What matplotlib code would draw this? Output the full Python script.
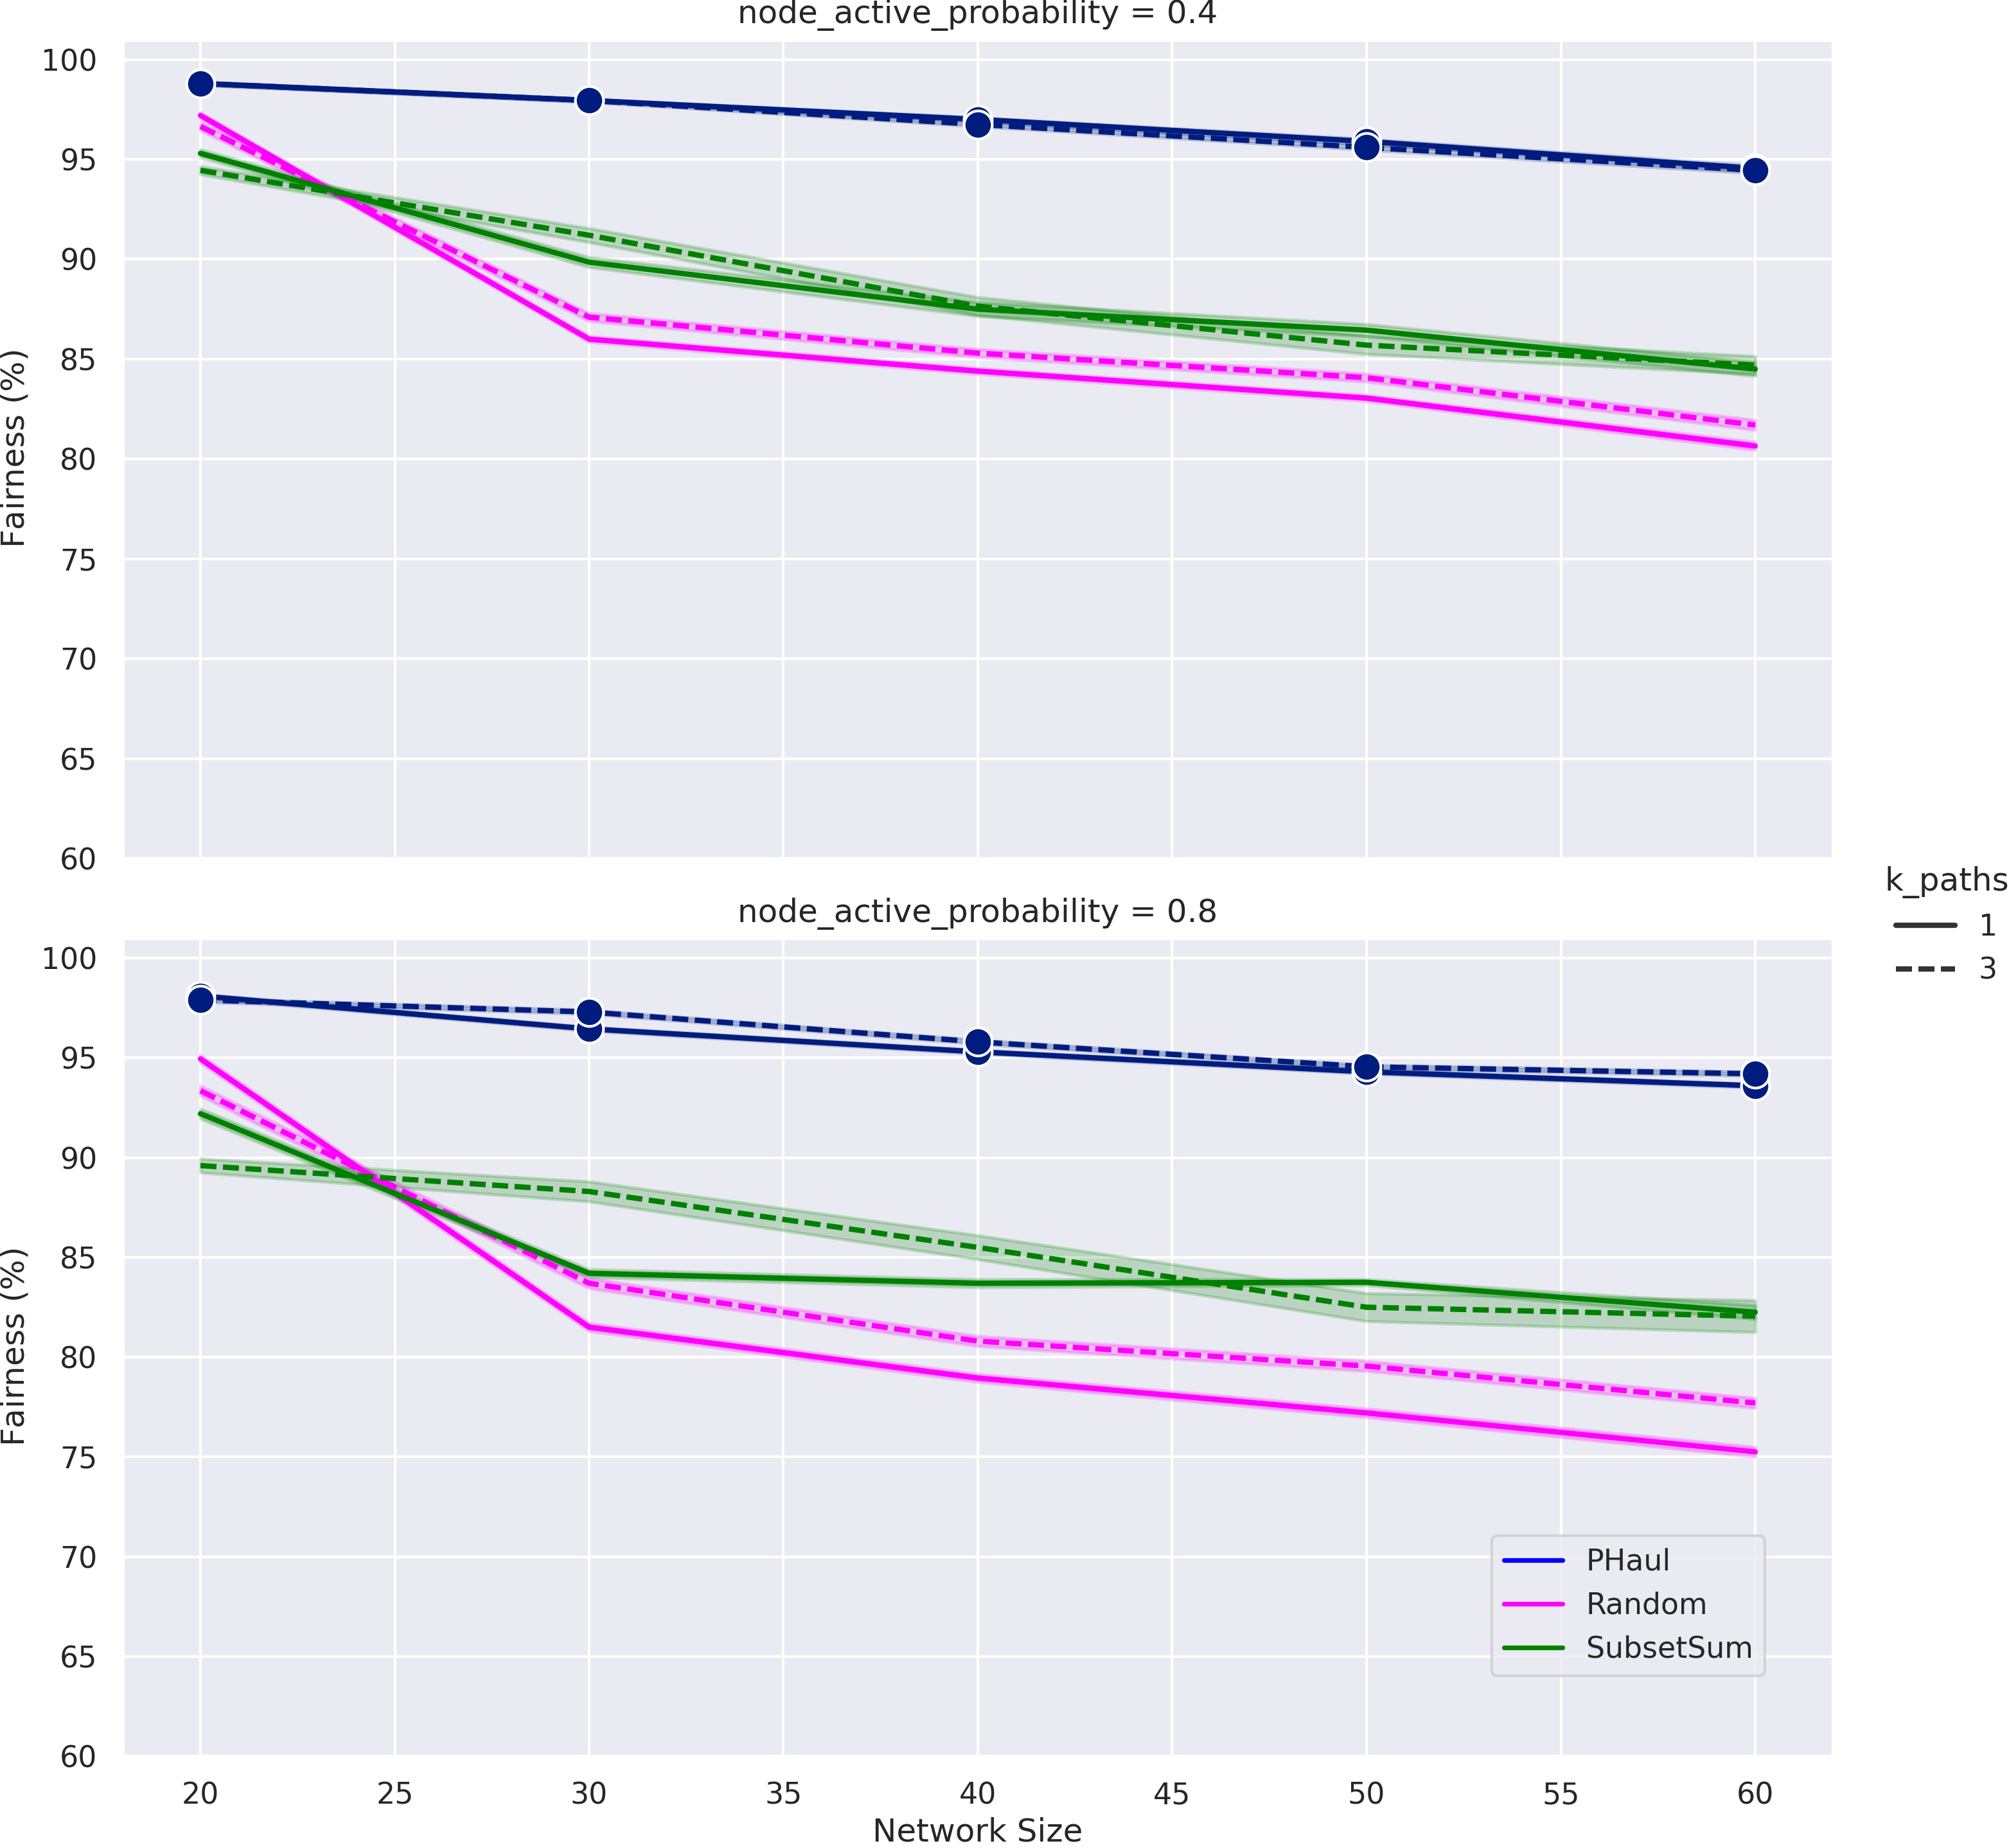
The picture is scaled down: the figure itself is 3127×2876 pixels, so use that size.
import matplotlib
matplotlib.use("Agg")
import matplotlib.pyplot as plt
from matplotlib.lines import Line2D
import numpy as np
import seaborn as sns

sns.set_theme(style="darkgrid")
plt.rcParams['font.family'] = ['DejaVu Sans']

network_sizes = [20, 30, 40, 50, 60]
probabilities = [0.4, 0.8]
k_paths = [1, 3]
algorithms = ["PHaul", "Random", "SubsetSum"]

# mean fairness per (probability, algorithm, k_paths)
phaul_p04_k1 = [98.8, 97.95, 97.0, 95.9, 94.55]
phaul_p04_k3 = [98.8, 97.95, 96.75, 95.6, 94.45]
random_p04_k1 = [97.2, 86.0, 84.4, 83.05, 80.65]
random_p04_k3 = [96.65, 87.1, 85.3, 84.07, 81.7]
subset_p04_k1 = [95.3, 89.85, 87.5, 86.45, 84.5]
subset_p04_k3 = [94.45, 91.2, 87.65, 85.7, 84.7]

phaul_p08_k1 = [98.1, 96.45, 95.3, 94.3, 93.6]
phaul_p08_k3 = [97.9, 97.3, 95.8, 94.55, 94.2]
random_p08_k1 = [94.95, 81.5, 78.95, 77.2, 75.25]
random_p08_k3 = [93.35, 83.7, 80.8, 79.55, 77.7]
subset_p08_k1 = [92.2, 84.2, 83.7, 83.75, 82.25]
subset_p08_k3 = [89.6, 88.3, 85.5, 82.5, 82.05]

# confidence-band half widths
phaul_p04_k1_ci = [0.08, 0.08, 0.1, 0.12, 0.15]
phaul_p04_k3_ci = [0.08, 0.08, 0.1, 0.12, 0.15]
random_p04_k1_ci = [0.15, 0.15, 0.15, 0.15, 0.2]
random_p04_k3_ci = [0.2, 0.2, 0.2, 0.2, 0.25]
subset_p04_k1_ci = [0.2, 0.25, 0.35, 0.3, 0.35]
subset_p04_k3_ci = [0.2, 0.35, 0.45, 0.45, 0.45]

phaul_p08_k1_ci = [0.1, 0.1, 0.1, 0.1, 0.1]
phaul_p08_k3_ci = [0.1, 0.1, 0.1, 0.1, 0.1]
random_p08_k1_ci = [0.2, 0.2, 0.2, 0.22, 0.25]
random_p08_k3_ci = [0.25, 0.25, 0.25, 0.25, 0.25]
subset_p08_k1_ci = [0.25, 0.2, 0.2, 0.15, 0.35]
subset_p08_k3_ci = [0.35, 0.5, 0.6, 0.7, 0.8]

data = {
    0.4: {
        "PHaul": {1: (phaul_p04_k1, phaul_p04_k1_ci), 3: (phaul_p04_k3, phaul_p04_k3_ci)},
        "Random": {1: (random_p04_k1, random_p04_k1_ci), 3: (random_p04_k3, random_p04_k3_ci)},
        "SubsetSum": {1: (subset_p04_k1, subset_p04_k1_ci), 3: (subset_p04_k3, subset_p04_k3_ci)},
    },
    0.8: {
        "PHaul": {1: (phaul_p08_k1, phaul_p08_k1_ci), 3: (phaul_p08_k3, phaul_p08_k3_ci)},
        "Random": {1: (random_p08_k1, random_p08_k1_ci), 3: (random_p08_k3, random_p08_k3_ci)},
        "SubsetSum": {1: (subset_p08_k1, subset_p08_k1_ci), 3: (subset_p08_k3, subset_p08_k3_ci)},
    },
}

line_colors = {"PHaul": "#001c7f", "Random": "#ff00ff", "SubsetSum": "#008000"}
legend_colors = {"PHaul": "blue", "Random": "magenta", "SubsetSum": "green"}
DASH = (3, 1.2)

W, H = 3128, 2876
dpi = 300
fig = plt.figure(figsize=(W / dpi, H / dpi), dpi=dpi)

left = 191 / W
right = 2853 / W
ax_top = fig.add_axes([left, 1 - 1336 / H, right - left, (1336 - 61.5) / H])
ax_bot = fig.add_axes([left, 1 - 2733 / H, right - left, (2733 - 1460) / H], sharex=ax_top)

x = np.array(network_sizes)
for ax, p in zip([ax_top, ax_bot], probabilities):
    for alg in algorithms:
        for k in k_paths:
            mean, ci = data[p][alg][k]
            mean = np.array(mean)
            ci = np.array(ci)
            c = line_colors[alg]
            ax.fill_between(x, mean - ci, mean + ci, color=c, alpha=0.2, linewidth=1.2)
            kw = {}
            if alg == "PHaul":
                kw = dict(marker="o", markersize=10.5, markerfacecolor=c,
                          markeredgecolor="white", markeredgewidth=1.0)
            ln, = ax.plot(x, mean, color=c, lw=2, **kw)
            if k == 3:
                ln.set_dashes(DASH)
    ax.set_ylim(60, 101)
    ax.set_yticks([60, 65, 70, 75, 80, 85, 90, 95, 100])
    ax.set_xticks([20, 25, 30, 35, 40, 45, 50, 55, 60])
    ax.set_xlim(18, 62)
    ax.set_title(f"node_active_probability = {p}", fontsize=12)
    ax.set_ylabel("Fairness $(\\%)$", fontsize=12)
    ax.tick_params(labelsize=11)

plt.setp(ax_top.get_xticklabels(), visible=False)
ax_top.set_xlabel("")
ax_bot.set_xlabel("Network Size", fontsize=12, labelpad=2.5)

# algorithm legend inside bottom axes
alg_handles = [Line2D([0], [0], color=legend_colors[a], lw=1.75) for a in algorithms]
ax_bot.legend(alg_handles, algorithms, loc="lower right", bbox_to_anchor=(0.9602, 0.0982),
              borderaxespad=0, fontsize=11)

# k_paths legend on the right
k_handles = [Line2D([0], [0], color="#333333", lw=2),
             Line2D([0], [0], color="#333333", lw=2, dashes=DASH)]
fig.legend(k_handles, [str(k) for k in k_paths], title="k_paths", loc="center left",
           bbox_to_anchor=(0.9245, 0.499), frameon=False, fontsize=11, title_fontsize=12)

fig.savefig("out.png", dpi=dpi)
